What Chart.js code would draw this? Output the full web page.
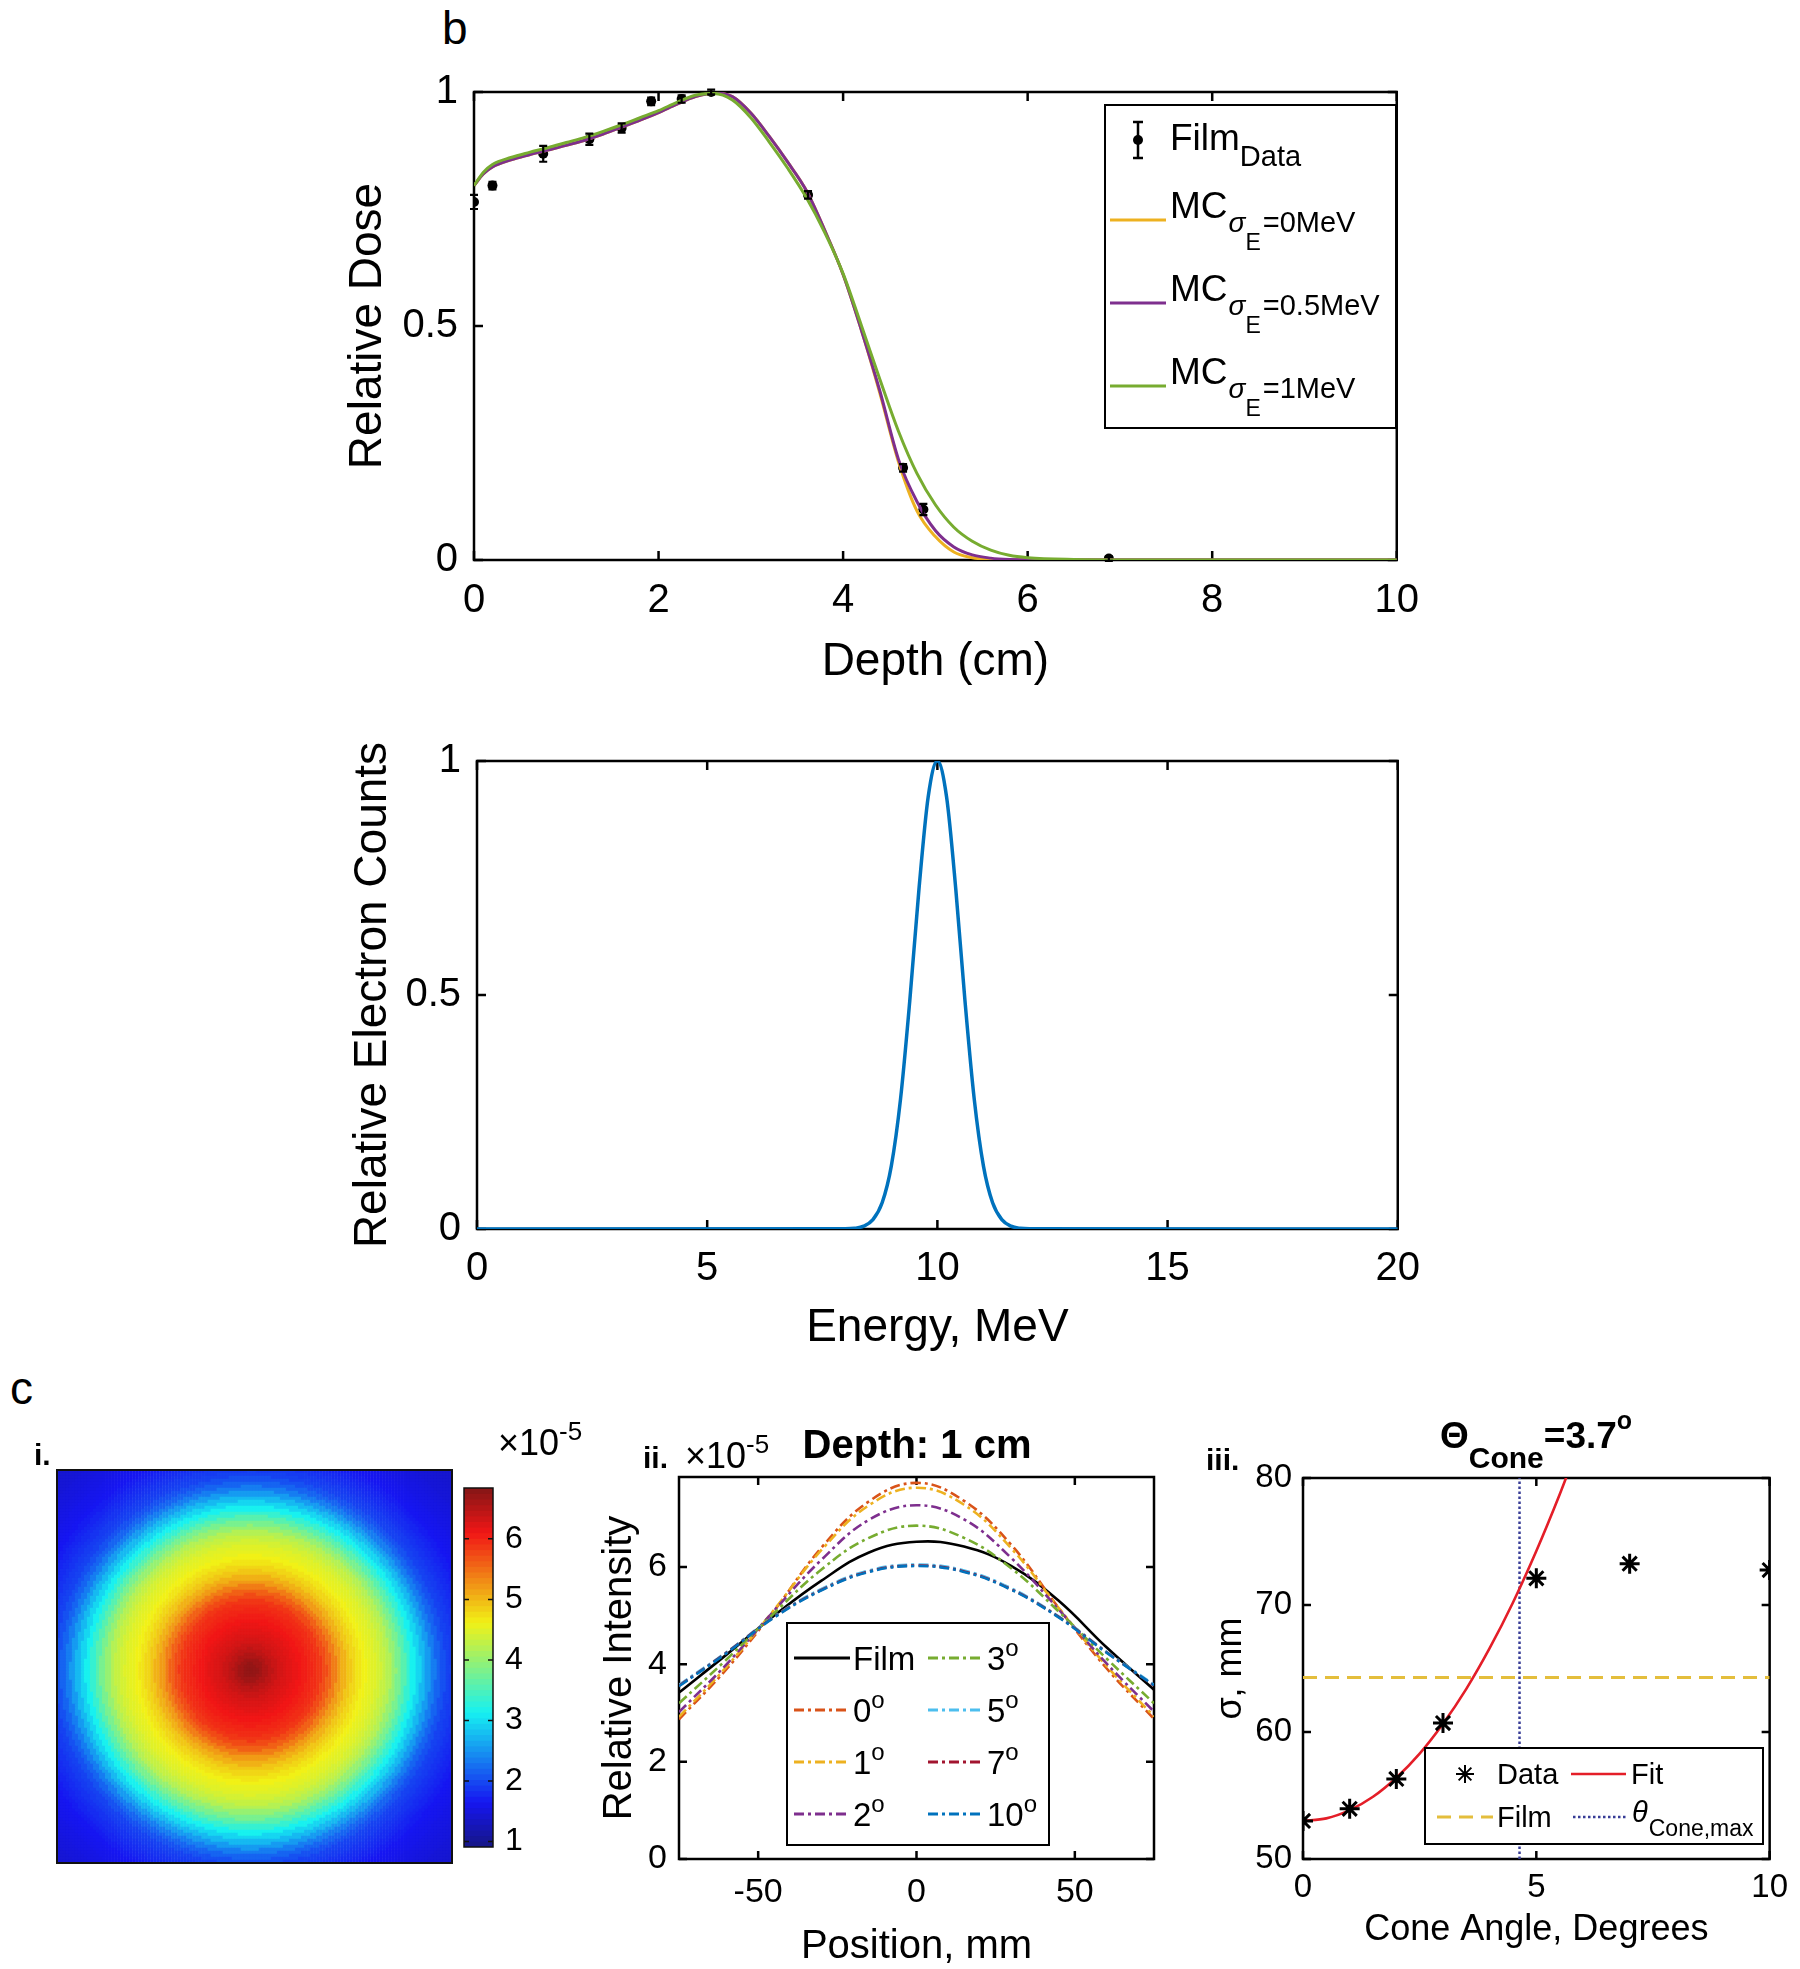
<!DOCTYPE html>
<html><head><meta charset="utf-8">
<script src="https://cdn.jsdelivr.net/npm/chart.js@4.4.1/dist/chart.umd.min.js"></script>
<style>
html,body{margin:0;padding:0;background:#fff;}
#page{position:relative;width:1800px;height:1969px;overflow:hidden;background:#fff;font-family:"Liberation Sans",Arial,sans-serif;}
canvas{position:absolute;}
.lbl{position:absolute;line-height:1;white-space:nowrap;color:#000;}
.lbl span{position:relative;line-height:1;}
</style></head><body><div id="page"></div>
<script>
// ---------------- DATA ----------------
// Panel b: depth dose
const depthCm = [0,0.1,0.2,0.4,0.6,0.8,1.0,1.2,1.4,1.6,1.8,2.0,2.2,2.4,2.6,2.8,3.0,3.2,3.4,3.6,3.8,4.0,4.2,4.4,4.6,4.8,5.0,5.2,5.4,5.6,5.8,6.0,6.5,7.0,8.0,9.0,10.0];
const mcSigma0  = [0.80,0.825,0.84,0.855,0.866,0.876,0.886,0.897,0.91,0.925,0.94,0.956,0.974,0.99,0.998,0.99,0.955,0.905,0.85,0.79,0.705,0.61,0.49,0.355,0.21,0.105,0.05,0.017,0.005,0.001,0,0,0,0,0,0,0];
const mcSigma05 = [0.80,0.825,0.84,0.855,0.866,0.876,0.886,0.897,0.91,0.925,0.94,0.956,0.974,0.99,0.998,0.99,0.955,0.905,0.85,0.79,0.705,0.61,0.49,0.36,0.215,0.125,0.063,0.028,0.011,0.004,0.001,0,0,0,0,0,0];
const mcSigma1  = [0.80,0.828,0.845,0.86,0.871,0.881,0.892,0.903,0.916,0.93,0.945,0.96,0.978,0.993,0.997,0.983,0.945,0.893,0.837,0.775,0.70,0.612,0.50,0.385,0.275,0.185,0.118,0.07,0.04,0.021,0.01,0.005,0.001,0,0,0,0];
const filmDepth = [0,0.2,0.75,1.25,1.6,1.92,2.25,2.57,3.62,4.65,4.87,6.88];
const filmDose  = [0.765,0.80,0.868,0.899,0.923,0.98,0.985,1.0,0.78,0.197,0.108,0.003];
const filmErr   = [0.015,0.008,0.017,0.012,0.01,0.008,0.008,0.005,0.008,0.008,0.012,0.005];

// Energy spectrum
const energyMeV = [0,8.0,8.2,8.4,8.6,8.8,9.0,9.2,9.4,9.6,9.8,10.0,10.2,10.4,10.6,10.8,11.0,11.2,11.4,11.6,11.8,12.0,20];
const electronCounts = [0,0.0004,0.0015,0.006,0.02,0.056,0.135,0.278,0.487,0.726,0.923,1.0,0.923,0.726,0.487,0.278,0.135,0.056,0.02,0.006,0.0015,0.0004,0];

const mapRadiusStep = 0.025;
const mapRadialIntensity = [6.75,6.72,6.65,6.55,6.45,6.37,6.3,6.25,6.2,6.15,6.1,6.05,6.0,5.95,5.88,5.75,5.6,5.4,5.2,5.05,
  4.9,4.8,4.7,4.62,4.55,4.5,4.42,4.32,4.2,4.0,3.8,3.58,3.35,3.15,2.95,2.75,2.55,2.35,2.18,2.05,
  1.95,1.9,1.85,1.8,1.75,1.7,1.65,1.62,1.6,1.57,1.55,1.52,1.5,1.47,1.45,1.43,1.42,1.41,1.4];
const colorMin = 0.91, colorMax = 6.84;
const colorbarTicks = [1,2,3,4,5,6];

// Panel c-ii: lateral profiles (x1e-5)
const positionMm = [-75,-60,-45,-30,-15,0,15,30,45,60,75];
const positionTicks = [-50,0,50];
const profFilm  = [3.42,4.2,5.0,5.72,6.3,6.52,6.42,6.02,5.3,4.35,3.48];
const prof0  = [2.87,3.9,5.1,6.4,7.35,7.73,7.36,6.45,5.15,3.92,2.88];
const prof1  = [2.92,3.95,5.12,6.35,7.27,7.63,7.28,6.38,5.15,3.97,2.93];
const prof2  = [3.02,4.0,5.1,6.15,6.97,7.27,6.98,6.18,5.12,4.02,3.03];
const prof3  = [3.2,4.1,5.05,5.95,6.6,6.85,6.6,5.97,5.08,4.12,3.2];
const prof5  = [3.58,4.25,4.98,5.55,5.93,6.05,5.93,5.56,4.98,4.26,3.58];
const prof7  = [3.56,4.24,4.97,5.53,5.91,6.03,5.91,5.54,4.97,4.25,3.56];
const prof10 = [3.55,4.23,4.96,5.52,5.9,6.02,5.9,5.53,4.96,4.24,3.57];

// Panel c-iii: sigma vs cone angle
const coneAngle = [0,1,2,3,5,7,10];
const sigmaMm = [53.0,53.95,56.3,60.7,72.1,73.25,72.75];
const fitAngle = [0,0.5,1,1.5,2,2.5,3,3.5,4,4.5,5,5.5,5.75];
const fitSigma = [53.0,53.2,53.85,54.9,56.4,58.3,60.65,63.4,66.6,70.2,74.25,78.7,81.1];
const filmSigma = 64.3;
const thetaConeMax = 4.64;

// ---------------- SETUP ----------------
const FONT = '"Liberation Sans", Arial, Helvetica, sans-serif';
Chart.defaults.font.family = FONT;
Chart.defaults.color = '#000';
Chart.defaults.animation = false;
Chart.defaults.responsive = false;
Chart.defaults.maintainAspectRatio = false;
Chart.defaults.events = [];
Chart.defaults.devicePixelRatio = 1;
Chart.defaults.plugins.legend.display = false;
Chart.defaults.plugins.tooltip.enabled = false;
Chart.defaults.elements.point.radius = 0;

const page = document.getElementById('page');
function makeCanvas(x0,y0,x1,y1){
  const c = document.createElement('canvas');
  c.width = x1-x0; c.height = y1-y0;
  c.style.left = x0+'px'; c.style.top = y0+'px';
  c.style.width = (x1-x0)+'px'; c.style.height = (y1-y0)+'px';
  page.appendChild(c);
  return c;
}
function label(html, x, baseline, size, opts){
  opts = opts || {};
  const d = document.createElement('div');
  d.className = 'lbl'; d.innerHTML = html;
  d.style.fontSize = size+'px';
  d.style.top = (baseline - 0.8465*size)+'px';
  if (opts.bold) d.style.fontWeight = '700';
  if (opts.w){ d.style.width = opts.w+'px'; d.style.left = (x-opts.w/2)+'px'; d.style.textAlign='center'; }
  else d.style.left = x+'px';
  page.appendChild(d);
}
function rich(ctx, x, y, parts){
  let cx = x;
  for (const p of parts){
    ctx.font = (p.style||'') + ' ' + p.s + 'px ' + FONT;
    ctx.fillText(p.t, cx, y + (p.dy||0));
    cx += ctx.measureText(p.t).width + (p.gap||0);
  }
  return cx;
}
// MATLAB jet colormap, slightly softened like the printed figure
function jet(t){
  t = Math.max(0, Math.min(1, t));
  const c = v => Math.max(0, Math.min(1, v));
  const r = c(1.5 - Math.abs(4*t-3)), g = c(1.5 - Math.abs(4*t-2)), b = c(1.5 - Math.abs(4*t-1));
  const s = v => Math.round(v*255*0.86 + 22);
  return 'rgb(' + s(r) + ',' + s(g) + ',' + s(b) + ')';
}
function xy(xs, ys){ return xs.map((x,i)=>({x:x, y:ys[i]})); }
const fmt = v => String(Math.round(v*100)/100);

// MATLAB-like box with inward ticks on all sides
const boxPlugin = {
  id: 'mbox',
  beforeDatasetsDraw(chart, args, o){
    if (!o || !o.on) return;
    const ctx = chart.ctx, a = chart.chartArea;
    ctx.save();
    ctx.strokeStyle = '#000'; ctx.lineWidth = o.lw; ctx.setLineDash([]);
    ctx.strokeRect(a.left, a.top, a.right-a.left, a.bottom-a.top);
    const L = o.len || 0;
    if (L > 0){
      ctx.beginPath();
      const xs = chart.scales.x;
      for (const t of xs.ticks){ const p = xs.getPixelForValue(t.value);
        ctx.moveTo(p, a.bottom); ctx.lineTo(p, a.bottom-L); ctx.moveTo(p, a.top); ctx.lineTo(p, a.top+L); }
      const ys = chart.scales.y;
      for (const t of ys.ticks){ const p = ys.getPixelForValue(t.value);
        ctx.moveTo(a.left, p); ctx.lineTo(a.left+L, p); ctx.moveTo(a.right, p); ctx.lineTo(a.right-L, p); }
      ctx.stroke();
    }
    ctx.restore();
  }
};
Chart.register(boxPlugin);

function axis(dir, o){
  const s = {
    type:'linear', position: o.position || (dir==='x' ? 'bottom' : 'left'),
    min:o.min, max:o.max, display: o.display !== false,
    ticks:{stepSize:o.step, includeBounds:false, autoSkip:false, maxRotation:0, minRotation:0, callback: fmt,
      padding:o.tpad||0, color:'#000', font:{family:FONT, size:o.tsize||30, lineHeight:1}},
    grid:{display:false, drawTicks:false}, border:{display:false},
    title:{display: !!o.title, text:o.title||'', color:'#000', font:{family:FONT, size:o.size||40, lineHeight:1},
      padding: dir==='x' ? {top:0, bottom:o.titlePad||0} : {top:o.titlePad||0, bottom:0}},
    afterFit: function(sc){ if (dir==='x') sc.height = o.extent; else sc.width = o.extent; }
  };
  if (o.tickValues) s.afterBuildTicks = function(sc){ sc.ticks = o.tickValues.map(v=>({value:v})); };
  return s;
}

// ---------------- PANEL b : depth dose ----------------
(function(){
  const X0=330, Y0=55, X1=1440, Y1=705;
  const A = {L:474, T:92, R:1410, B:560};
  const c = makeCanvas(X0,Y0,X1,Y1);
  const legendB = {
    id:'legB',
    afterDatasetsDraw(chart){
      const ctx = chart.ctx, xs = chart.scales.x, ys = chart.scales.y;
      ctx.save();
      ctx.strokeStyle = '#000'; ctx.lineWidth = 2.2;
      filmDepth.forEach((d,i)=>{
        const x = xs.getPixelForValue(d);
        const y1 = ys.getPixelForValue(filmDose[i]-filmErr[i]);
        const y2 = ys.getPixelForValue(filmDose[i]+filmErr[i]);
        ctx.beginPath(); ctx.moveTo(x,y1); ctx.lineTo(x,y2);
        ctx.moveTo(x-4,y1); ctx.lineTo(x+4,y1); ctx.moveTo(x-4,y2); ctx.lineTo(x+4,y2); ctx.stroke();
      });
      ctx.translate(-X0,-Y0);
      ctx.fillStyle = '#fff'; ctx.fillRect(1105,105,291,323);
      ctx.strokeStyle = '#000'; ctx.lineWidth = 2; ctx.strokeRect(1105,105,291,323);
      ctx.fillStyle = '#000';
      ctx.beginPath(); ctx.moveTo(1138,122); ctx.lineTo(1138,158);
      ctx.moveTo(1133,122); ctx.lineTo(1143,122); ctx.moveTo(1133,158); ctx.lineTo(1143,158);
      ctx.lineWidth = 2.5; ctx.stroke();
      ctx.beginPath(); ctx.arc(1138,140,5,0,Math.PI*2); ctx.fill();
      ctx.textBaseline = 'alphabetic';
      rich(ctx,1170,150,[{t:'Film',s:37},{t:'Data',s:29,dy:16}]);
      const rows = [[220,'#EDB120','=0MeV'],[303,'#7E2F8E','=0.5MeV'],[386,'#77AC30','=1MeV']];
      for (const r of rows){
        const L = r[0];
        ctx.strokeStyle = r[1]; ctx.lineWidth = 3;
        ctx.beginPath(); ctx.moveTo(1110,L); ctx.lineTo(1166,L); ctx.stroke();
        ctx.fillStyle = '#000';
        let x = rich(ctx,1170,L-2,[{t:'MC',s:37}]);
        x = rich(ctx,x+1,L+12,[{t:'σ',s:28,style:'italic'}]);
        x = rich(ctx,x,L+30,[{t:'E',s:23}]);
        rich(ctx,x+2,L+12,[{t:r[2],s:29}]);
      }
      ctx.restore();
    }
  };
  new Chart(c, {
    type:'line',
    data:{datasets:[
      {data:xy(filmDepth,filmDose), showLine:false, pointRadius:5, pointBackgroundColor:'#000', pointBorderWidth:0, order:4},
      {data:xy(depthCm,mcSigma0), borderColor:'#EDB120', borderWidth:3, cubicInterpolationMode:'monotone', order:3},
      {data:xy(depthCm,mcSigma05), borderColor:'#7E2F8E', borderWidth:3, cubicInterpolationMode:'monotone', order:2},
      {data:xy(depthCm,mcSigma1), borderColor:'#77AC30', borderWidth:3, cubicInterpolationMode:'monotone', order:1}
    ]},
    options:{
      layout:{padding:{left:0, top:A.T-Y0, right:X1-A.R, bottom:0}},
      scales:{
        x: axis('x',{min:0,max:10,step:2,tsize:40,tpad:21,title:'Depth (cm)',size:46,titlePad:20,extent:Y1-A.B}),
        y: axis('y',{min:0,max:1,step:0.5,tsize:40,tpad:16,title:'Relative Dose',size:46,titlePad:15,extent:A.L-X0})
      },
      plugins:{mbox:{on:true,lw:2.5,len:9}}
    },
    plugins:[legendB]
  });
})();

// ---------------- Energy spectrum ----------------
(function(){
  const X0=330, Y0=725, X1=1440, Y1=1365;
  const A = {L:477, T:759, R:1410, B:1229};
  const c = makeCanvas(X0,Y0,X1,Y1);
  new Chart(c, {
    type:'line',
    data:{datasets:[{data:xy(energyMeV,electronCounts), borderColor:'#0072BD', borderWidth:3.5, cubicInterpolationMode:'monotone'}]},
    options:{
      layout:{padding:{left:0, top:A.T-Y0, right:X1-A.R, bottom:0}},
      scales:{
        x: axis('x',{min:0,max:20,step:5,tsize:40,tpad:20,title:'Energy, MeV',size:46,titlePad:14,extent:Y1-A.B}),
        y: axis('y',{min:0,max:1,step:0.5,tsize:40,tpad:16,title:'Relative Electron Counts',size:46,titlePad:20,extent:A.L-X0})
      },
      plugins:{mbox:{on:true,lw:2.5,len:9}}
    }
  });
})();

// ---------------- Panel c-i : intensity map + colorbar ----------------
(function(){
  const X0=45, Y0=1460, X1=462, Y1=1875;
  const A = {L:57, T:1470, R:452, B:1863};
  const c = makeCanvas(X0,Y0,X1,Y1);
  const N = 131, cx = 0.49*(N-1), cy = 0.51*(N-1), half = N/2;
  const cells = [], cols = [];
  for (let j=0;j<N;j++) for (let i=0;i<N;i++){
    const r = Math.hypot(i-cx, j-cy)/half;
    const k = Math.min(mapRadialIntensity.length-1, Math.round(r/mapRadiusStep));
    const v = mapRadialIntensity[k];
    cells.push({x:i, y:j});
    cols.push(jet((v-colorMin)/(colorMax-colorMin)));
  }
  const side = (A.R-A.L)/N;
  new Chart(c, {
    type:'scatter',
    data:{datasets:[{data:cells, pointStyle:'rect', pointRadius:side/Math.SQRT2+0.3, pointBackgroundColor:cols, pointBorderWidth:0, pointHoverRadius:0}]},
    options:{
      layout:{padding:{left:A.L-X0, top:A.T-Y0, right:X1-A.R, bottom:Y1-A.B}},
      scales:{
        x:{type:'linear', display:false, min:-0.5, max:N-0.5},
        y:{type:'linear', display:false, min:-0.5, max:N-0.5, reverse:true}
      },
      plugins:{mbox:{on:false}}
    },
    plugins:[{id:'hb', afterDatasetsDraw(chart){ const a=chart.chartArea, ctx=chart.ctx; ctx.save(); ctx.strokeStyle='#111'; ctx.lineWidth=2; ctx.strokeRect(a.left,a.top,a.right-a.left,a.bottom-a.top); ctx.restore(); }}]
  });

  // colorbar
  const CX0=455, CY0=1460, CX1=560, CY1=1875;
  const CA = {L:464, T:1470, R:493, B:1863};
  const cc = makeCanvas(CX0,CY0,CX1,CY1);
  const nb = 64, step = (colorMax-colorMin)/nb;
  const bands = [], bcols = [];
  for (let k=0;k<nb;k++){
    const lo = colorMin + k*step;
    bands.push({x:'cb', y:[lo, Math.min(colorMax, lo+step*1.08)]});
    bcols.push(jet((k+0.5)/nb));
  }
  new Chart(cc, {
    type:'bar',
    data:{labels:['cb'], datasets:[{data:bands, backgroundColor:bcols, borderWidth:0, barPercentage:1, categoryPercentage:1}]},
    options:{
      layout:{padding:{left:CA.L-CX0, top:CA.T-CY0, right:0, bottom:CY1-CA.B}},
      scales:{
        x:{type:'category', display:false},
        y: axis('y',{position:'right',min:colorMin,max:colorMax,step:1,tsize:32,tpad:12,extent:CX1-CA.R})
      },
      plugins:{mbox:{on:false}}
    },
    plugins:[{id:'cbb', afterDatasetsDraw(chart){
      const a=chart.chartArea, ctx=chart.ctx, ys=chart.scales.y;
      ctx.save(); ctx.strokeStyle='#111'; ctx.lineWidth=1.5;
      ctx.strokeRect(a.left,a.top,a.right-a.left,a.bottom-a.top);
      ctx.beginPath();
      for (const v of colorbarTicks){ const p=ys.getPixelForValue(v); ctx.moveTo(a.left,p); ctx.lineTo(a.left+5,p); ctx.moveTo(a.right,p); ctx.lineTo(a.right-5,p); }
      ctx.stroke(); ctx.restore();
    }}]
  });
})();

// ---------------- Panel c-ii : lateral profiles ----------------
(function(){
  const X0=580, Y0=1415, X1=1180, Y1=1995;
  const A = {L:679, T:1477, R:1154, B:1859};
  const c = makeCanvas(X0,Y0,X1,Y1);
  const DD = [10,4,3,4];
  const series = [
    {y:profFilm, col:'#000000', dash:[], name:'Film', order:8},
    {y:prof0, col:'#D95319', dash:DD, name:'0', order:7},
    {y:prof1, col:'#EDB120', dash:DD, name:'1', order:6},
    {y:prof2, col:'#7E2F8E', dash:DD, name:'2', order:5},
    {y:prof3, col:'#77AC30', dash:DD, name:'3', order:4},
    {y:prof5, col:'#4DBEEE', dash:DD, name:'5', order:3},
    {y:prof7, col:'#A2142F', dash:DD, name:'7', order:2},
    {y:prof10, col:'#0072BD', dash:DD, name:'10', order:1}
  ];
  const leg = {
    id:'legII',
    afterDraw(chart){
      const ctx = chart.ctx;
      ctx.save(); ctx.translate(-X0,-Y0);
      ctx.fillStyle='#fff'; ctx.fillRect(787,1623,262,222);
      ctx.strokeStyle='#000'; ctx.lineWidth=2; ctx.setLineDash([]); ctx.strokeRect(787,1623,262,222);
      const rowsY = [1658,1710,1762,1814];
      series.forEach((s,i)=>{
        const col = i<4 ? 0 : 1, row = i%4;
        const lx0 = col ? 928 : 794, lx1 = col ? 984 : 850, tx = col ? 987 : 853;
        const y = rowsY[row];
        ctx.strokeStyle = s.col; ctx.lineWidth = 3; ctx.setLineDash(s.dash);
        ctx.beginPath(); ctx.moveTo(lx0,y); ctx.lineTo(lx1,y); ctx.stroke();
        ctx.setLineDash([]); ctx.fillStyle='#000'; ctx.textBaseline='alphabetic';
        if (s.name==='Film') rich(ctx,tx,y+12,[{t:'Film',s:33}]);
        else rich(ctx,tx,y+12,[{t:s.name,s:33},{t:'o',s:24,dy:-14}]);
      });
      ctx.restore();
    }
  };
  new Chart(c, {
    type:'line',
    data:{datasets: series.map(s=>({data:xy(positionMm,s.y), borderColor:s.col, borderWidth:2.6, borderDash:s.dash, tension:0.4, order:s.order}))},
    options:{
      layout:{padding:{left:0, top:A.T-Y0, right:X1-A.R, bottom:0}},
      scales:{
        x: axis('x',{min:-75,max:75,step:50,tickValues:positionTicks,tsize:34,tpad:17,title:'Position, mm',size:40,titlePad:28,extent:Y1-A.B}),
        y: axis('y',{min:0,max:7.85,step:2,tsize:34,tpad:12,title:'Relative Intensity',size:40,titlePad:20,extent:A.L-X0})
      },
      plugins:{mbox:{on:true,lw:2.5,len:8}}
    },
    plugins:[leg]
  });
})();

// ---------------- Panel c-iii : sigma vs cone angle ----------------
(function(){
  const X0=1190, Y0=1400, X1=1800, Y1=1995;
  const A = {L:1303, T:1478, R:1775, B:1859};
  const c = makeCanvas(X0,Y0,X1,Y1);
  const FILMCOL = 'rgb(228,190,60)', THCOL = 'rgb(55,60,150)', FITCOL = 'rgb(228,30,40)';
  const leg = {
    id:'legIII',
    afterDraw(chart){
      const ctx = chart.ctx;
      ctx.save(); ctx.translate(-X0,-Y0);
      ctx.fillStyle='#fff'; ctx.fillRect(1425,1748,338,96);
      ctx.strokeStyle='#000'; ctx.lineWidth=2; ctx.setLineDash([]); ctx.strokeRect(1425,1748,338,96);
      ctx.strokeStyle='#000';
      Chart.helpers.drawPoint(ctx,{pointStyle:'star',radius:9,borderWidth:3,rotation:0},1465,1774);
      ctx.fillStyle='#000'; ctx.textBaseline='alphabetic';
      rich(ctx,1497,1784,[{t:'Data',s:29}]);
      ctx.strokeStyle=FITCOL; ctx.lineWidth=2.6; ctx.beginPath(); ctx.moveTo(1571,1774); ctx.lineTo(1626,1774); ctx.stroke();
      rich(ctx,1631,1784,[{t:'Fit',s:29}]);
      ctx.strokeStyle=FILMCOL; ctx.lineWidth=3; ctx.setLineDash([14,8]); ctx.beginPath(); ctx.moveTo(1437,1817); ctx.lineTo(1493,1817); ctx.stroke();
      ctx.strokeStyle=THCOL; ctx.lineWidth=2.5; ctx.setLineDash([2.5,2.5]); ctx.beginPath(); ctx.moveTo(1573,1817); ctx.lineTo(1627,1817); ctx.stroke();
      ctx.setLineDash([]);
      rich(ctx,1497,1827,[{t:'Film',s:29}]);
      rich(ctx,1632,1822,[{t:'θ',s:29,style:'italic',gap:1},{t:'Cone,max',s:23,dy:14}]);
      ctx.restore();
    }
  };
  new Chart(c, {
    type:'line',
    data:{datasets:[
      {data:xy(coneAngle,sigmaMm), showLine:false, pointStyle:'star', pointRadius:10, pointBorderWidth:3, pointBorderColor:'#000', pointBackgroundColor:'#000', order:1},
      {data:xy(fitAngle,fitSigma), borderColor:FITCOL, borderWidth:2.6, cubicInterpolationMode:'monotone', order:2},
      {data:[{x:0,y:filmSigma},{x:10,y:filmSigma}], borderColor:FILMCOL, borderWidth:3, borderDash:[14,8], order:3},
      {data:[{x:thetaConeMax,y:50},{x:thetaConeMax,y:80}], borderColor:THCOL, borderWidth:2.5, borderDash:[2.5,2.5], order:4}
    ]},
    options:{
      layout:{padding:{left:0, top:A.T-Y0, right:X1-A.R, bottom:0}},
      scales:{
        x: axis('x',{min:0,max:10,step:5,tsize:33,tpad:12,title:'Cone Angle, Degrees',size:36,titlePad:47,extent:Y1-A.B}),
        y: axis('y',{min:50,max:80,step:10,tsize:33,tpad:11,title:'σ, mm',size:36,titlePad:23,extent:A.L-X0})
      },
      plugins:{mbox:{on:true,lw:2.5,len:8}}
    },
    plugins:[leg]
  });
})();

// ---------------- Text labels ----------------
label('b', 442, 44, 46);
label('c', 10, 1404, 46);
label('i.', 34, 1465, 30, {bold:true});
label('×10<span style="font-size:26px;top:-15px">-5</span>', 498, 1455, 36);
label('ii.', 643, 1468, 30, {bold:true});
label('×10<span style="font-size:26px;top:-15px">-5</span>', 685, 1468, 36);
label('Depth: 1 cm', 917, 1458, 40, {bold:true, w:300});
label('iii.', 1206, 1470, 30, {bold:true});
label('Θ<span style="font-size:30px;top:20px">Cone</span>=3.7<span style="font-size:25px;top:-19px">o</span>', 1440, 1448, 37, {bold:true});
</script>
</body></html>
